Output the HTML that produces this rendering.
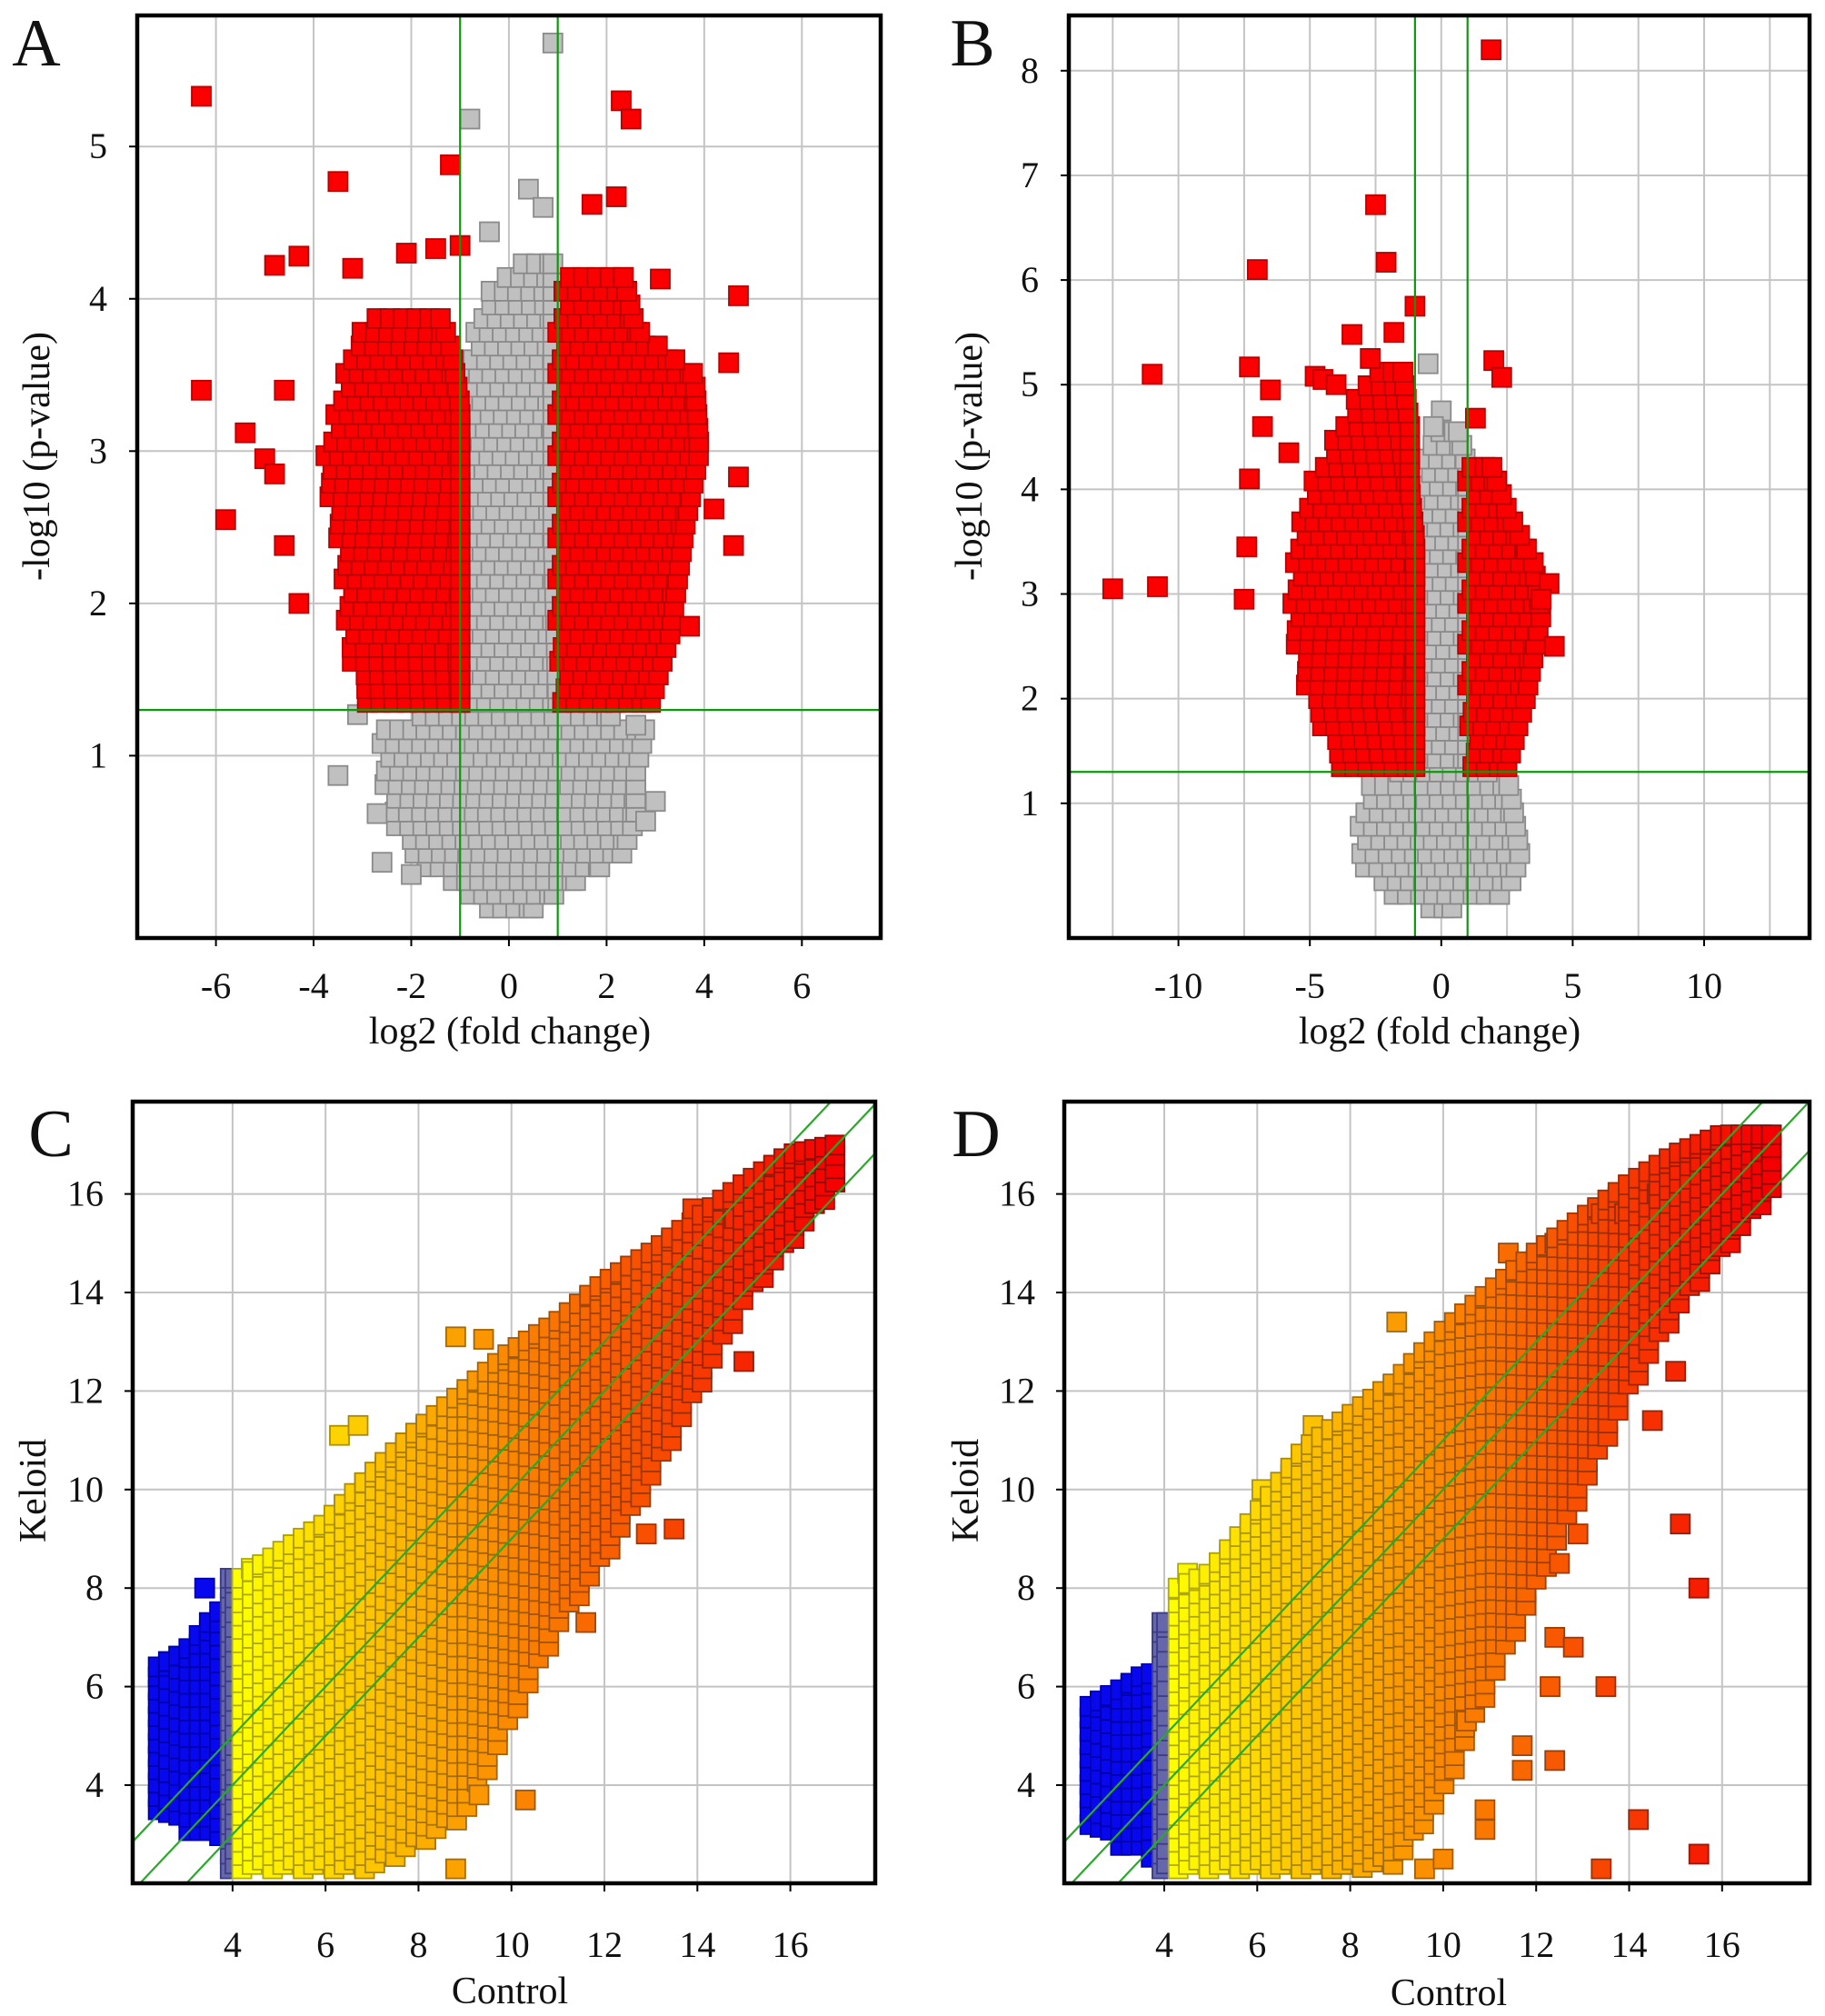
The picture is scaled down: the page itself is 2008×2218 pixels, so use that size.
<!DOCTYPE html>
<html><head><meta charset="utf-8">
<style>
html,body{margin:0;padding:0;background:#fff;}
svg{display:block;}
svg text{font-family:"Liberation Serif","DejaVu Serif",serif;}
</style></head>
<body>
<svg id="fig" width="2008" height="2218" viewBox="0 0 2008 2218" xmlns="http://www.w3.org/2000/svg" font-family="Liberation Serif, serif">
<defs>
<clipPath id="clipA"><rect x="151" y="17" width="818" height="1015"/></clipPath>
<clipPath id="clipB"><rect x="1176" y="17" width="815" height="1015"/></clipPath>
<clipPath id="clipC"><rect x="146" y="1212" width="817" height="860"/></clipPath>
<clipPath id="clipD"><rect x="1171" y="1212" width="820" height="860"/></clipPath>
</defs>
</svg>
<script>
// ---------- Panel A data (volcano) ----------
const aXTicks = [-6,-4,-2,0,2,4,6];
const aYTicks = [1,2,3,4,5];
const aGreyEnv = [[0,-0.4,0.5],[0.15,-1.2,1.2],[0.35,-2.0,2.3],[0.6,-2.4,2.6],[0.9,-2.6,2.6],[1.2,-2.6,2.8],[1.35,-1.0,1.0],[2.5,-1.0,0.9],[3.5,-0.9,0.9],[4.0,-0.5,0.9],[4.3,0.3,0.9]];
const aRedLeftEnv = [[1.35,-2.9,-1.0],[1.7,-3.3,-1.0],[2.3,-3.4,-1.0],[2.9,-3.8,-1.0],[3.3,-3.5,-1.0],[3.7,-3.2,-1.2],[3.95,-2.6,-1.5]];
const aRedRightEnv = [[1.35,1.1,2.9],[1.8,1.0,3.3],[2.5,1.0,3.6],[3.0,1.0,3.9],[3.5,1.0,3.8],[3.8,1.0,2.6],[4.2,1.2,2.3]];
const aRedX = [-6.3,-6.3,-5.8,-5.4,-4.8,-4.3,-3.5,-3.2,-4.6,-4.3,-4.6,-1.2,2.3,2.5,3.1,4.7,4.5,4.7,4.6,4.2,3.7,-2.1,1.7,2.2,-5.0,-4.8,-1.5,-1.0];
const aRedY = [5.33,3.4,2.55,3.12,4.22,4.28,4.77,4.2,2.38,2.0,3.4,4.88,5.3,5.18,4.13,4.02,3.58,2.83,2.38,2.62,1.85,4.3,4.62,4.67,2.95,2.85,4.33,4.35];
const aGreyX = [0.9,-0.8,0.4,-0.4,-3.5,-2.7,-2.6,-2.0,3.0,2.8,-3.1,2.6,0.7];
const aGreyY = [5.68,5.18,4.72,4.44,0.87,0.62,0.3,0.22,0.7,0.57,1.27,1.2,4.6];

// ---------- Panel B data (volcano) ----------
const bXTicks = [-10,-5,0,5,10];
const bXGrid = [-12.5,-10,-7.5,-5,-2.5,0,2.5,5,7.5,10,12.5];
const bYTicks = [1,2,3,4,5,6,7,8];
const bGreyEnv = [[0,-0.4,0.4],[0.15,-2.2,2.5],[0.5,-3.2,3.0],[1.0,-3.0,2.7],[1.25,-2.5,2.5],[1.35,-1.0,1.0],[3,-1.0,1.0],[4.2,-0.7,1.0],[4.6,-0.3,0.6]];
const bRedLeftEnv = [[1.35,-3.8,-1.0],[2.0,-5.0,-1.0],[2.7,-5.7,-1.0],[3.5,-5.5,-1.0],[4.0,-5.0,-1.2],[4.6,-3.8,-1.2],[5.2,-2.5,-1.5]];
const bRedRightEnv = [[1.35,1.2,2.5],[2.0,1.0,3.2],[2.8,1.0,3.8],[3.3,1.0,3.5],[3.8,1.0,2.5],[4.3,1.0,1.8]];
const bRedX = [-12.5,-10.8,-11,-7,-7.3,-6.8,-7.3,-7.4,-7.5,-4.8,-4.5,-5.8,-6.5,-2.5,-2.1,-1.0,-3.4,-1.8,1.9,2.0,2.3,1.3,4.1,4.3,3.8,-4.0,-2.7];
const bRedY = [3.05,3.07,5.1,6.1,5.17,4.6,4.1,3.45,2.95,5.08,5.05,4.35,4.95,6.72,6.17,5.75,5.48,5.5,8.2,5.23,5.07,4.68,3.1,2.5,2.95,5.0,5.25];
const bGreyX = [-0.5,0.0,-0.3];
const bGreyY = [5.2,4.75,4.6];

// ---------- Panel C data (scatter) ----------
const cXTicks = [4,6,8,10,12,14,16];
const cYTicks = [4,6,8,10,12,14,16];
const cEnv = [[4.2,2.3,8.2],[5,2.3,8.7],[6,2.3,9.3],[7,2.3,10.3],[8,2.8,11.2],[9,3.4,12.0],[10,5.3,12.8],[11,7.2,13.4],[12,8.6,14.2],[13,10.2,14.8],[14,12.0,15.5],[15,13.8,16.2],[16,15.0,16.8],[17,16.2,17.0]];
const cBlueEnv = [[2.4,3.5,6.4],[3.0,3.1,6.7],[3.5,2.9,7.3],[3.8,3.0,7.6]];
const cSlateEnv = [[3.95,2.3,8.2],[4.05,2.3,8.2]];
const cOutX = [8.8,9.4,6.7,6.3,13.9,14.8,15.0,12.9,13.5,11.6,10.3,8.8,9.3,4.4,3.4];
const cOutY = [13.1,13.05,11.3,11.1,15.7,15.5,12.6,9.1,9.2,7.3,3.7,2.3,3.8,8.4,8.0];

// ---------- Panel D data (scatter) ----------
const dXTicks = [4,6,8,10,12,14,16];
const dYTicks = [4,6,8,10,12,14,16];
const dEnv = [[4.3,2.3,8.0],[5,2.3,8.3],[6,2.3,9.5],[7,2.3,10.8],[8,2.3,11.5],[9,2.4,12.2],[10,3.8,13.2],[11,6.0,14.0],[12,8.0,14.8],[13,10.0,15.5],[14,12.0,16.2],[15,13.6,16.8],[16,14.8,17.2],[17.2,16.2,17.2]];
const dBlueEnv = [[2.4,3.2,5.6],[3.0,2.8,5.9],[3.5,2.6,6.2],[3.85,2.5,6.3]];
const dSlateEnv = [[3.95,2.3,7.3],[4.05,2.3,7.3]];
const dOutX = [6.1,7.2,4.5,9.0,11.4,12.4,13.4,13.9,14.6,15.0,15.1,15.5,14.5,12.5,12.9,12.4,12.8,12.3,13.5,11.7,11.7,12.4,10.9,10.9,14.2,15.5,13.4,10.0,9.6,10.5];
const dOutY = [10.0,11.3,8.3,13.4,14.8,15.0,15.6,15.6,16.0,12.4,9.3,8.0,11.4,8.5,9.1,7.0,6.8,6.0,6.0,4.8,4.3,4.5,3.5,3.1,3.3,2.6,2.3,2.5,2.3,5.3];

const NS = "http://www.w3.org/2000/svg";
const FONT = '"Liberation Serif", "DejaVu Serif", serif';
const svg = document.getElementById('fig');
function el(tag, attrs, parent){const e=document.createElementNS(NS,tag);for(const k in attrs)e.setAttribute(k,attrs[k]);(parent||svg).appendChild(e);return e;}
function lin(d0,d1,p0,p1){return v=>p0+(v-d0)*(p1-p0)/(d1-d0);}

function fillEnv(env, dKey, dSpan){
  const pts=[]; let row=0;
  for(let k=env[0][0]; k<=env[env.length-1][0]+1e-9; k+=dKey, row++){
    let i=0; while(i<env.length-2 && env[i+1][0]<k) i++;
    const a=env[i], b=env[i+1]||env[i];
    const t = b[0]===a[0]?0:Math.min(1,Math.max(0,(k-a[0])/(b[0]-a[0])));
    const lo=a[1]+(b[1]-a[1])*t, hi=a[2]+(b[2]-a[2])*t;
    const off=(row%3)*dSpan/3;
    for(let s=lo+off; s<=hi+1e-9; s+=dSpan) pts.push([k,s]);
    pts.push([k,hi]);
  }
  return pts;
}

function sq(g, px, py, fill, stroke, name){
  const r=el('rect',{x:(px-10.5).toFixed(1),y:(py-10.5).toFixed(1),width:21,height:21,fill:fill,stroke:stroke,'stroke-width':1.8},g);
  
  
  return r;
}

function frame(box, xs, ys, xGrid, yGrid, xTicks, yTicks, labelY, labelXRight, name){
  const g=el('g',{});
  
  
  xGrid.forEach(v=>{el('line',{x1:xs(v),x2:xs(v),y1:box.t,y2:box.b,stroke:'#c4c4c4','stroke-width':2},g);});
  yGrid.forEach(v=>{el('line',{x1:box.l,x2:box.r,y1:ys(v),y2:ys(v),stroke:'#c4c4c4','stroke-width':2},g);});
  xTicks.forEach(v=>{
    el('line',{x1:xs(v),x2:xs(v),y1:box.b,y2:box.b+9,stroke:'#000','stroke-width':2},g);
    const t=el('text',{x:xs(v),y:labelY,'font-size':40,'font-family':FONT,'text-anchor':'middle',fill:'#111'},g);
    t.textContent = v<0 ? '-'+Math.abs(v) : String(v);
    
    
  });
  yTicks.forEach(v=>{
    el('line',{x1:box.l-9,x2:box.l,y1:ys(v),y2:ys(v),stroke:'#000','stroke-width':2},g);
    const t=el('text',{x:labelXRight,y:ys(v)+13,'font-size':40,'font-family':FONT,'text-anchor':'end',fill:'#111'},g);
    t.textContent = String(v);
    
    
  });
  return g;
}
function border(box,name){
  const r=el('rect',{x:box.l,y:box.t,width:box.r-box.l,height:box.b-box.t,fill:'none',stroke:'#000','stroke-width':4.5});
  
  
}
function text(x,y,s,size,name,rot){
  const t=el('text',{x:x,y:y,'font-size':size,'font-family':FONT,'text-anchor':'middle',fill:'#111'});
  if(rot) t.setAttribute('transform','rotate(-90 '+x+' '+y+')');
  t.textContent=s;
  
  
}

function volcano(cfg){
  const {box,xs,ys,clip,greyEnv,redL,redR,redX,redY,greyX,greyY,dx,dy,name}=cfg;
  const g=el('g',{'clip-path':'url(#'+clip+')'});
  
  
  fillEnv(greyEnv,dy,dx).forEach(p=>sq(g,xs(p[1]),ys(p[0]),'#c0c0c0','#8a8a8a','point-ns'));
  greyX.forEach((x,i)=>sq(g,xs(x),ys(greyY[i]),'#c0c0c0','#8a8a8a','point-ns'));
  fillEnv(redL,dy,dx).forEach(p=>sq(g,xs(p[1]),ys(p[0]),'#fa0000','#b80000','point-down'));
  fillEnv(redR,dy,dx).forEach(p=>sq(g,xs(p[1]),ys(p[0]),'#fa0000','#b80000','point-up'));
  redX.forEach((x,i)=>sq(g,xs(x),ys(redY[i]),'#fa0000','#b80000','point-sig'));
  const gl=el('g',{'clip-path':'url(#'+clip+')'});
  
  
  [-1,1].forEach(v=>el('line',{x1:xs(v),x2:xs(v),y1:box.t,y2:box.b,stroke:'#0a9a0a','stroke-width':2.2},gl));
  el('line',{x1:box.l,x2:box.r,y1:ys(1.3),y2:ys(1.3),stroke:'#0a9a0a','stroke-width':2.2},gl);
}

// Panel A
{
  const box={l:151,t:17,r:969,b:1032};
  const xs=lin(-6,6,237.6,882.3), ys=lin(5,1,161.2,831.4);
  frame(box,xs,ys,aXTicks,aYTicks,aXTicks,aYTicks,1098,118,'panel-a');
  volcano({box,xs,ys,clip:'clipA',greyEnv:aGreyEnv,redL:aRedLeftEnv,redR:aRedRightEnv,redX:aRedX,redY:aRedY,greyX:aGreyX,greyY:aGreyY,dx:0.27,dy:0.09,name:'panel-a'});
  border(box,'panel-a');
  text(561,1148,'log2 (fold change)',42,'panel-a-x-axis-title');
  text(54,502,'-log10 (p-value)',42,'panel-a-y-axis-title',true);
  text(40,72,'A',74,'panel-a-label');
}
// Panel B
{
  const box={l:1176,t:17,r:1991,b:1032};
  const xs=lin(-10,10,1296.6,1875), ys=lin(8,1,77.8,883.8);
  frame(box,xs,ys,bXGrid,bYTicks,bXTicks,bYTicks,1098,1143,'panel-b');
  volcano({box,xs,ys,clip:'clipB',greyEnv:bGreyEnv,redL:bRedLeftEnv,redR:bRedRightEnv,redX:bRedX,redY:bRedY,greyX:bGreyX,greyY:bGreyY,dx:0.5,dy:0.13,name:'panel-b'});
  border(box,'panel-b');
  text(1584,1148,'log2 (fold change)',42,'panel-b-x-axis-title');
  text(1080,502,'-log10 (p-value)',42,'panel-b-y-axis-title',true);
  text(1070,72,'B',74,'panel-b-label');
}

function heat(x){
  if(x<3.9) return ['#0808ee','#0000a8'];
  if(x<4.15) return ['#6666aa','#3c3c88'];
  const t=Math.min(1,Math.max(0,(x-4.2)/(17-4.2)));
  const h=60*(1-t);
  return ['hsl('+h.toFixed(1)+',100%,'+(50-2*t).toFixed(1)+'%)','hsl('+h.toFixed(1)+',90%,'+(36-6*t).toFixed(1)+'%)'];
}
function scatter(cfg){
  const {box,xs,ys,clip,env,blue,slate,outX,outY,name}=cfg;
  const g=el('g',{'clip-path':'url(#'+clip+')'});
  
  
  let pts=[];
  fillEnv(blue,0.22,0.27).forEach(p=>pts.push([p[0],p[1]]));
  fillEnv(slate,0.1,0.3).forEach(p=>pts.push([p[0],p[1]]));
  fillEnv(env,0.22,0.27).forEach(p=>pts.push([p[0],p[1]]));
  outX.forEach((x,i)=>pts.push([x,outY[i]]));
  pts.sort((a,b)=>a[0]-b[0]);
  pts.forEach(p=>{const c=heat(p[0]);sq(g,xs(p[0]),ys(p[1]),c[0],c[1],'point');});
  const gl=el('g',{'clip-path':'url(#'+clip+')'});
  
  
  [-1,0,1].forEach(o=>el('line',{x1:xs(0),y1:ys(0+o),x2:xs(20),y2:ys(20+o),stroke:'#2aa82a','stroke-width':2.2},gl));
}
// Panel C
{
  const box={l:146,t:1212,r:963,b:2072};
  const xs=lin(4,16,255.9,869.6), ys=lin(16,4,1313.6,1964);
  frame(box,xs,ys,cXTicks,cYTicks,cXTicks,cYTicks,2153,114,'panel-c');
  scatter({box,xs,ys,clip:'clipC',env:cEnv,blue:cBlueEnv,slate:cSlateEnv,outX:cOutX,outY:cOutY,name:'panel-c'});
  border(box,'panel-c');
  text(561,2204,'Control',42,'panel-c-x-axis-title');
  text(50,1640,'Keloid',42,'panel-c-y-axis-title',true);
  text(56,1272,'C',74,'panel-c-label');
}
// Panel D
{
  const box={l:1171,t:1212,r:1991,b:2072};
  const xs=lin(4,16,1281,1894.8), ys=lin(16,4,1313.6,1964);
  frame(box,xs,ys,dXTicks,dYTicks,dXTicks,dYTicks,2153,1139,'panel-d');
  scatter({box,xs,ys,clip:'clipD',env:dEnv,blue:dBlueEnv,slate:dSlateEnv,outX:dOutX,outY:dOutY,name:'panel-d'});
  border(box,'panel-d');
  text(1594,2206,'Control',42,'panel-d-x-axis-title');
  text(1076,1640,'Keloid',42,'panel-d-y-axis-title',true);
  text(1074,1272,'D',74,'panel-d-label');
}
</script>
</body></html>
